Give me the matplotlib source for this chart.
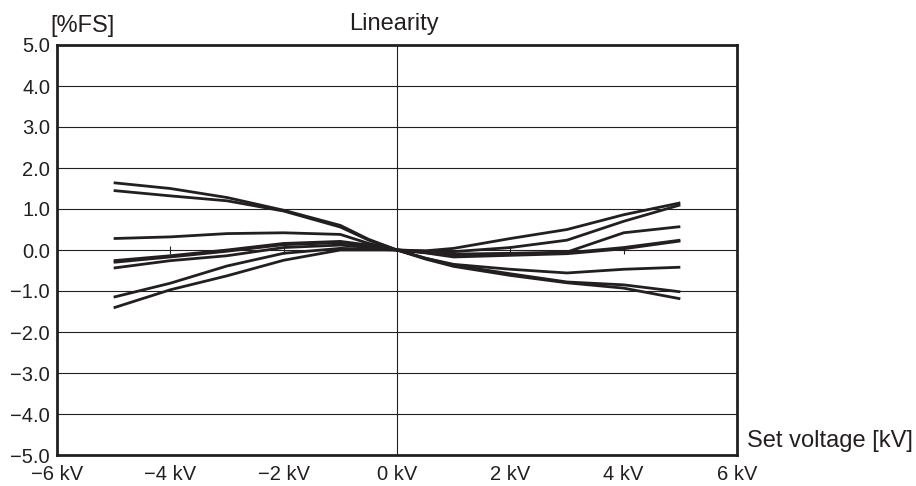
import matplotlib
matplotlib.use("Agg")
import matplotlib.pyplot as plt

plt.rcParams['font.family'] = ['Liberation Sans', 'DejaVu Sans']

# Set voltage [kV]
x_left = [-5, -4, -3, -2, -1, -0.5, 0]
x_right = [0, 0.5, 1, 2, 3, 4, 5]

# Linearity [%FS], negative side
left_a = [1.64, 1.50, 1.28, 0.97, 0.60, 0.26, 0.0]
left_b = [1.45, 1.32, 1.20, 0.95, 0.56, 0.24, 0.0]
left_c = [0.28, 0.32, 0.40, 0.42, 0.38, 0.16, 0.0]
left_d1 = [-0.26, -0.14, 0.00, 0.16, 0.21, 0.12, 0.0]
left_d2 = [-0.30, -0.17, -0.03, 0.13, 0.18, 0.10, 0.0]
left_e = [-0.44, -0.26, -0.14, 0.06, 0.12, 0.06, 0.0]
left_f = [-1.15, -0.81, -0.39, -0.08, 0.04, 0.02, 0.0]
left_g = [-1.41, -0.97, -0.63, -0.25, 0.00, 0.00, 0.0]

# Linearity [%FS], positive side
right_1 = [0.0, -0.02, 0.04, 0.28, 0.50, 0.86, 1.15]
right_2 = [0.0, -0.03, -0.04, 0.06, 0.24, 0.70, 1.10]
right_3 = [0.0, -0.05, -0.10, -0.08, -0.05, 0.42, 0.57]
right_4 = [0.0, -0.06, -0.14, -0.11, -0.07, 0.06, 0.24]
right_5 = [0.0, -0.07, -0.17, -0.13, -0.09, 0.03, 0.22]
right_6 = [0.0, -0.20, -0.35, -0.47, -0.56, -0.47, -0.42]
right_7 = [0.0, -0.20, -0.37, -0.58, -0.78, -0.85, -1.02]
right_8 = [0.0, -0.22, -0.40, -0.62, -0.80, -0.93, -1.19]

left_series = [left_a, left_b, left_c, left_d1, left_d2, left_e, left_f, left_g]
right_series = [right_8, right_7, right_6, right_4, right_5, right_3, right_1, right_2]

x_ticks = [-6, -4, -2, 0, 2, 4, 6]
x_labels = ["\u22126 kV", "\u22124 kV", "\u22122 kV", "0 kV", "2 kV", "4 kV", "6 kV"]
y_ticks = [5, 4, 3, 2, 1, 0, -1, -2, -3, -4, -5]
y_labels = ["5.0", "4.0", "3.0", "2.0", "1.0", "0.0", "\u22121.0", "\u22122.0",
            "\u22123.0", "\u22124.0", "\u22125.0"]
zero_marks = [-4, -2, 2, 4]

ink = "#231f20"

fig = plt.figure(figsize=(9.16, 4.86), dpi=100)
ax = fig.add_axes([57/916, 1-455/486, (737-57)/916, (455-45)/486])

ax.set_xlim(-6, 6)
ax.set_ylim(-5, 5)

for yv in y_ticks[1:-1]:
    ax.axhline(yv, color=ink, lw=0.8, zorder=1)
ax.axvline(0, color=ink, lw=0.8, zorder=1)

for yl, yr in zip(left_series, right_series):
    ax.plot(x_left + x_right[1:], yl + yr[1:], color=ink, lw=2.0,
            solid_capstyle='butt', solid_joinstyle='round', zorder=3)

ax.plot(zero_marks, [0]*len(zero_marks), linestyle='none', marker='|',
        markersize=6, markeredgewidth=0.8, color=ink, zorder=2)

for s in ax.spines.values():
    s.set_linewidth(2.0)
    s.set_color(ink)

ax.set_xticks(x_ticks)
ax.set_xticklabels(x_labels)
ax.set_yticks(y_ticks)
ax.set_yticklabels(y_labels)
ax.tick_params(axis='both', length=0, labelsize=14.5, colors=ink, labelcolor=ink)
ax.tick_params(axis='x', pad=7)
ax.tick_params(axis='y', pad=5)

fig.text(50/916, 1-26/486, "[%FS]", fontsize=17, color=ink, ha='left', va='center')
fig.text(394/916, 1-24/486, "Linearity", fontsize=17, color=ink, ha='center', va='center')
fig.text(747/916, 1-441/486, "Set voltage [kV]", fontsize=17, color=ink,
         ha='left', va='center')

fig.savefig("out.png", dpi=100)
